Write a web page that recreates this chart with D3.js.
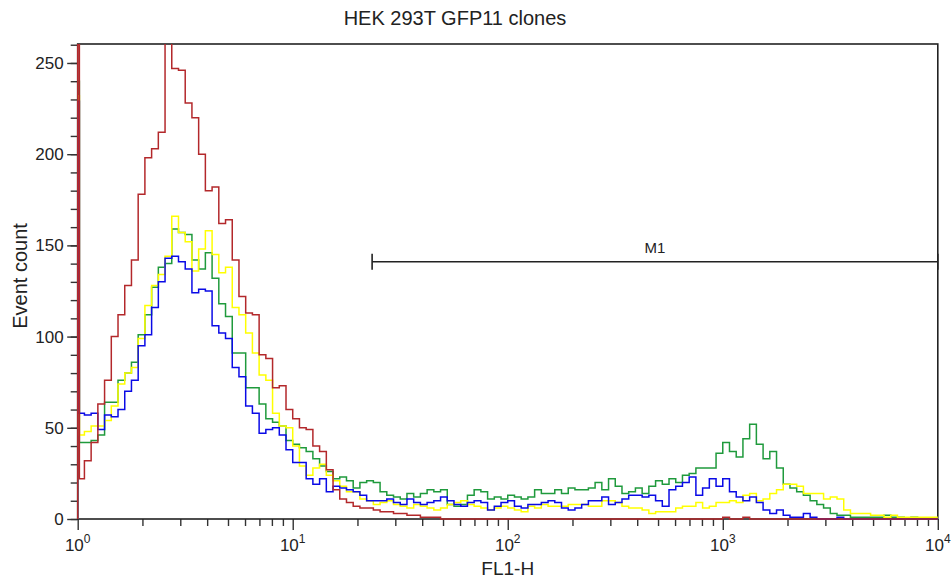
<!DOCTYPE html>
<html>
<head>
<meta charset="utf-8">
<script src="https://cdn.jsdelivr.net/npm/d3@7"></script>
<style>
  body { margin: 0; background: #fff; }
  svg text { font-family: "Liberation Sans", Arial, sans-serif; fill: #222; }
</style>
</head>
<body>
<div id="canvas"></div>
<script>
"use strict"

/* Histogram counts, 32 channels per decade from 10^0 to 10^4 (128 channels) */
let greenCounts = [
  42, 42, 43, 46, 64, 64, 76, 80, 86, 101, 112, 127, 138, 140, 159, 157,
  156, 142, 137, 146, 132, 118, 111, 91, 91, 72, 72, 63, 55, 53, 51, 43,
  41, 39, 37, 33, 29, 26, 22, 23, 21, 17, 20, 21, 20, 15, 13, 12,
  11, 14, 12, 14, 16, 15, 16, 8, 7, 8, 13, 16, 15, 11, 12, 11,
  13, 12, 11, 12, 16, 14, 14, 16, 14, 17, 16, 16, 17, 20, 16, 22,
  18, 14, 15, 17, 14, 18, 21, 19, 22, 20, 24, 25, 28, 28, 28, 36,
  42, 37, 34, 44, 52, 41, 33, 37, 28, 19, 17, 15, 13, 10, 8, 6,
  3, 2, 2, 1, 1, 1, 1, 1, 2, 1, 1, 0, 1, 0, 0, 0
];
let yellowCounts = [
  46, 48, 51, 51, 54, 62, 74, 80, 83, 99, 117, 128, 134, 144, 166, 157,
  152, 136, 148, 158, 145, 135, 138, 116, 112, 102, 91, 79, 76, 58, 51, 50,
  40, 29, 24, 28, 30, 24, 21, 18, 15, 15, 11, 10, 8, 9, 10, 8,
  7, 6, 8, 7, 6, 5, 6, 8, 9, 10, 8, 7, 6, 5, 6, 7,
  6, 5, 4, 7, 6, 8, 7, 7, 7, 8, 8, 8, 7, 7, 10, 10,
  9, 7, 6, 6, 5, 3, 4, 4, 4, 6, 7, 7, 9, 6, 7, 9,
  9, 10, 9, 13, 14, 10, 11, 14, 16, 19, 19, 18, 14, 14, 14, 11,
  12, 11, 5, 3, 3, 3, 2, 2, 1, 2, 1, 1, 1, 1, 1, 1
];
let blueCounts = [
  58, 57, 58, 49, 57, 56, 60, 70, 76, 95, 101, 116, 130, 143, 144, 141,
  137, 124, 126, 125, 106, 102, 99, 83, 78, 62, 58, 47, 49, 50, 46, 38,
  31, 31, 22, 19, 22, 15, 18, 17, 16, 15, 13, 10, 10, 10, 11, 9,
  8, 11, 9, 8, 9, 10, 12, 10, 8, 7, 9, 10, 9, 5, 7, 9,
  10, 7, 6, 8, 8, 9, 10, 9, 6, 5, 6, 8, 10, 10, 12, 8,
  9, 11, 13, 13, 12, 13, 10, 7, 16, 18, 20, 23, 13, 17, 22, 18,
  22, 15, 12, 10, 12, 9, 5, 3, 5, 2, 1, 1, 3, 1, 0, 0,
  0, 1, 0, 0, 0, 0, 0, 0, 0, 0, 0, 0, 0, 0, 0, 0
];
let redCounts = [
  22, 32, 42, 63, 76, 100, 112, 128, 142, 178, 198, 203, 212, 262, 247, 246,
  228, 220, 200, 180, 182, 162, 164, 142, 122, 113, 112, 90, 88, 72, 73, 60,
  55, 50, 49, 40, 37, 27, 16, 11, 9, 7, 6, 6, 5, 4, 4, 3,
  3, 2, 2, 1, 1, 1, 0, 0, 0, 0, 0, 0, 0, 0, 0, 0,
  0, 0, 0, 0, 0, 0, 0, 0, 0, 0, 0, 0, 0, 0, 0, 0,
  0, 0, 0, 0, 0, 0, 0, 0, 0, 0, 0, 0, 0, 0, 0, 0,
  1, 0, 0, 1, 0, 0, 0, 0, 0, 0, 0, 0, 0, 0, 0, 0,
  0, 0, 0, 0, 0, 0, 0, 0, 0, 0, 0, 0, 0, 0, 0, 0
];
/* events piled up in the very first channel (off scale for red) */
let firstChannel = [240, 232, 229, 320];
let seriesNames = ["green", "yellow", "blue", "red"];
let seriesColors = ["#1f9a3c", "#ffff00", "#0a0ae6", "#b3282b"];

let yTicks = [0, 50, 100, 150, 200, 250];
let xDecades = [0, 1, 2, 3, 4];
let markerRange = [23.4, 10000];
let markerLevel = 141;
let markerLabel = "M1";

/* Configuration variables: drawing */
let svgWidth = 952;
let svgHeight = 580;
let plotLeft = 77.7, plotRight = 937.8, plotTop = 44, plotBottom = 519;

let svg = d3.select("#canvas")
    .append("svg")
    .attr("width", svgWidth)
    .attr("height", svgHeight);

let xScale = d3.scaleLog()
    .domain([1, 10000])
    .range([plotLeft, plotRight]);

let yScale = d3.scaleLinear()
    .domain([0, 260.4])
    .range([plotBottom, plotTop]);

/* clip so the off-scale red peak is cut at the top frame */
svg.append("clipPath")
    .attr("id", "plotClip")
    .append("rect")
    .attr("x", plotLeft - 1)
    .attr("y", plotTop)
    .attr("width", plotRight - plotLeft + 2)
    .attr("height", plotBottom - plotTop + 2);

/* y axis: major and minor ticks */
let yMinor = d3.range(0, 261, 10);
svg.append("g")
    .attr("transform", "translate(" + plotLeft + ",0)")
    .call(d3.axisLeft(yScale).tickValues(yMinor).tickSize(7).tickFormat(""))
    .call(g => g.select(".domain").remove());
svg.append("g")
    .attr("transform", "translate(" + plotLeft + ",0)")
    .call(d3.axisLeft(yScale).tickValues(yTicks).tickSize(10.5).tickPadding(3.5))
    .call(g => g.select(".domain").remove())
    .call(g => g.selectAll("text").attr("font-size", 17).attr("fill", "#222"));

/* x axis: decades and minor ticks */
let xMinor = [];
xDecades.slice(0, -1).forEach(function (d) {
    for (let m = 2; m < 10; m++) xMinor.push(m * Math.pow(10, d));
});
svg.append("g")
    .attr("transform", "translate(0," + plotBottom + ")")
    .call(d3.axisBottom(xScale).tickValues(xMinor).tickSize(7).tickFormat(""))
    .call(g => g.select(".domain").remove());
svg.append("g")
    .attr("transform", "translate(0," + plotBottom + ")")
    .call(d3.axisBottom(xScale).tickValues(xDecades.map(d => Math.pow(10, d))).tickSize(11).tickFormat(""))
    .call(g => g.select(".domain").remove());

svg.selectAll(".tick line")
    .attr("stroke", "#333")
    .attr("stroke-width", 1.4);

/* decade labels with superscript */
let xLabels = svg.selectAll(".xlab")
    .data(xDecades)
    .join("text")
    .attr("class", "xlab")
    .attr("x", d => xScale(Math.pow(10, d)))
    .attr("y", 551)
    .attr("text-anchor", "middle")
    .attr("font-size", 17);
xLabels.append("tspan").text("10");
xLabels.append("tspan")
    .attr("font-size", 12)
    .attr("dy", -8)
    .text(d => d);

/* frame */
svg.append("rect")
    .attr("x", plotLeft)
    .attr("y", plotTop)
    .attr("width", plotRight - plotLeft)
    .attr("height", plotBottom - plotTop)
    .attr("fill", "none")
    .attr("stroke", "#222")
    .attr("stroke-width", 1.6);

/* histogram step lines */
let line = d3.line()
    .x(d => xScale(d[0]))
    .y(d => yScale(d[1]))
    .curve(d3.curveStepAfter);

let allCounts = [greenCounts, yellowCounts, blueCounts, redCounts];
let nCh = greenCounts.length;
let perDecade = nCh / 4;

let plot = svg.append("g").attr("clip-path", "url(#plotClip)");
plot.selectAll("path.hist")
    .data(seriesNames)
    .join("path")
    .attr("class", "hist")
    .attr("fill", "none")
    .attr("stroke", (d, i) => seriesColors[i])
    .attr("stroke-width", 1.5)
    .attr("d", function (d, i) {
        let counts = allCounts[i];
        let pts = [[1, 0], [1, firstChannel[i]],
                   [Math.pow(10, 0.25 / perDecade), firstChannel[i]]];
        counts.forEach(function (c, k) {
            let x0 = Math.pow(10, k / perDecade);
            if (k === 0) x0 = Math.pow(10, 0.25 / perDecade);
            pts.push([x0, c]);
        });
        pts.push([10000, counts[nCh - 1]]);
        return line(pts);
    });

/* M1 marker */
let markerY = yScale(markerLevel);
svg.append("line")
    .attr("x1", xScale(markerRange[0]))
    .attr("x2", xScale(markerRange[1]))
    .attr("y1", markerY)
    .attr("y2", markerY)
    .attr("stroke", "#222")
    .attr("stroke-width", 1.6);
markerRange.forEach(function (v) {
    svg.append("line")
        .attr("x1", xScale(v))
        .attr("x2", xScale(v))
        .attr("y1", markerY - 8)
        .attr("y2", markerY + 8)
        .attr("stroke", "#222")
        .attr("stroke-width", 1.6);
});
svg.append("text")
    .attr("x", (xScale(markerRange[0]) + xScale(markerRange[1])) / 2)
    .attr("y", markerY - 9)
    .attr("text-anchor", "middle")
    .attr("font-size", 15)
    .text(markerLabel);

/* titles */
svg.append("text")
    .attr("x", 455)
    .attr("y", 25)
    .attr("text-anchor", "middle")
    .attr("font-size", 20)
    .text("HEK 293T GFP11 clones");

svg.append("text")
    .attr("x", (plotLeft + plotRight) / 2)
    .attr("y", 575)
    .attr("text-anchor", "middle")
    .attr("font-size", 19)
    .text("FL1-H");

svg.append("text")
    .attr("transform", "rotate(-90)")
    .attr("x", -276)
    .attr("y", 27)
    .attr("text-anchor", "middle")
    .attr("font-size", 20)
    .text("Event count");
</script>
</body>
</html>
